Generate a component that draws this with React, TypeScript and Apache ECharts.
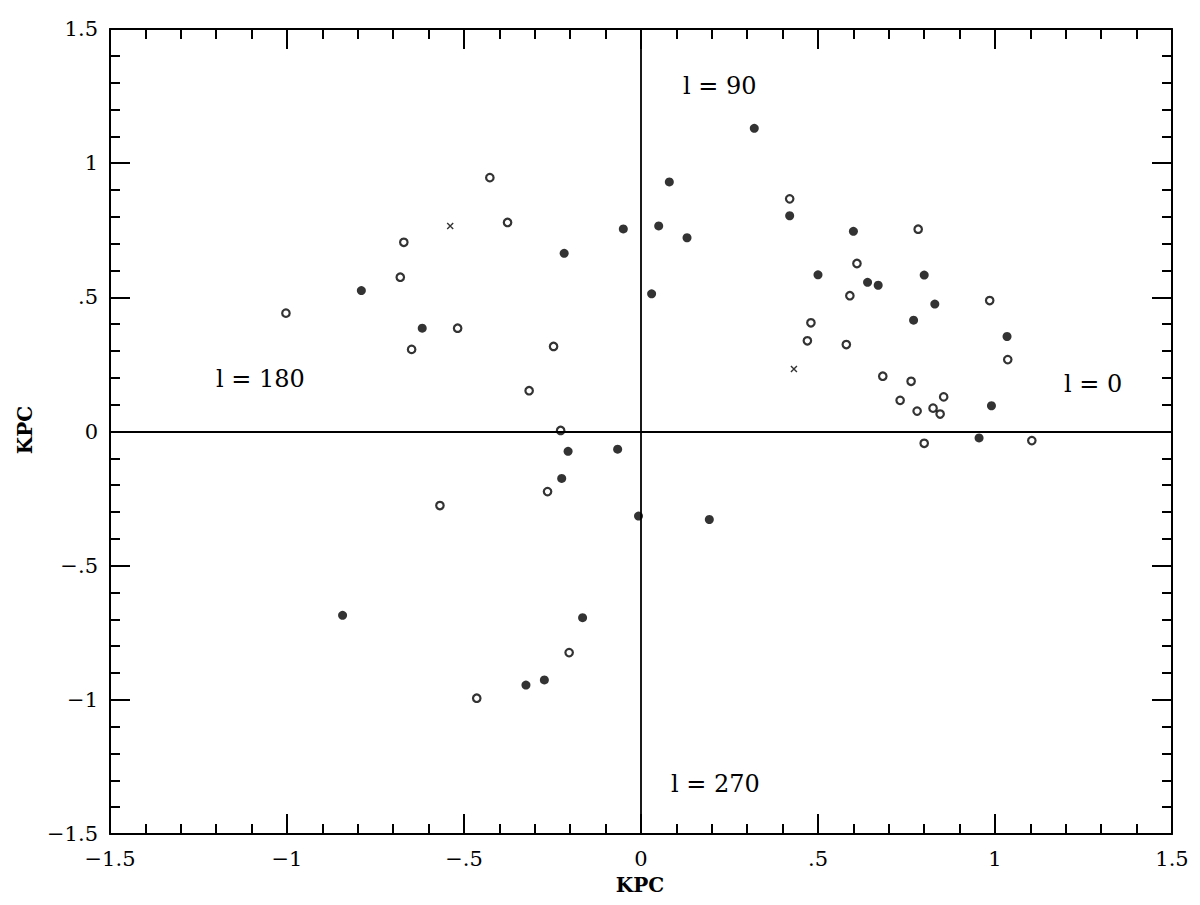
import { useEffect, useRef } from "react";
import * as echarts from "echarts";

// Filled (solid) circles: [x KPC, y KPC]
const filledPoints: [number, number][] = [
  [0.32, 1.13], [0.08, 0.93], [-0.05, 0.755], [0.05, 0.766], [0.13, 0.722],
  [-0.217, 0.664], [0.03, 0.513], [0.42, 0.804], [0.6, 0.746], [0.5, 0.584],
  [0.64, 0.556], [0.67, 0.545], [0.8, 0.583], [0.83, 0.475], [0.77, 0.415],
  [1.034, 0.354], [0.99, 0.096], [0.955, -0.024], [-0.79, 0.525], [-0.618, 0.385],
  [-0.206, -0.074], [-0.066, -0.066], [-0.224, -0.175], [-0.007, -0.315], [0.193, -0.328],
  [-0.165, -0.694], [-0.273, -0.926], [-0.325, -0.945], [-0.843, -0.685],
];

// Open circles
const openPoints: [number, number][] = [
  [-0.427, 0.946], [-0.67, 0.705], [-0.68, 0.575], [-1.003, 0.441], [-0.377, 0.779],
  [0.42, 0.867], [0.61, 0.626], [0.59, 0.506], [0.783, 0.754], [0.48, 0.405],
  [0.47, 0.338], [0.58, 0.324], [0.985, 0.488], [1.036, 0.268], [0.683, 0.206],
  [0.763, 0.187], [0.732, 0.116], [0.855, 0.129], [0.78, 0.076], [0.825, 0.087],
  [0.845, 0.065], [0.8, -0.044], [1.104, -0.034], [-0.648, 0.306], [-0.518, 0.385],
  [-0.568, -0.276], [-0.247, 0.317], [-0.316, 0.152], [-0.227, 0.004], [-0.264, -0.224],
  [-0.203, -0.824], [-0.464, -0.994],
];

// Cross marks
const crossPoints: [number, number][] = [
  [-0.539, 0.766], [0.432, 0.233],
];

const axisMin = -1.5;
const axisMax = 1.5;
const axisStep = 0.5;
const axisTitle = "KPC";
const regionTexts = ["l = 90", "l = 180", "l = 0", "l = 270"];

const FONT = "'DejaVu Serif', 'Liberation Serif', serif";

const fmt = (v: number) => {
  if (Math.abs(v) < 1e-9) return "0";
  const s = Math.abs(v).toString().replace(/^0\./, ".");
  return (v < 0 ? "\u2212" : "") + s;
};

export default function App() {
  const ref = useRef<HTMLDivElement>(null);

  useEffect(() => {
    if (!ref.current) return;
    const chart = echarts.init(ref.current, undefined, { renderer: "svg" });

    const baseAxis = (labels: boolean, position: string) => ({
      type: "value" as const,
      position,
      min: axisMin,
      max: axisMax,
      interval: axisStep,
      axisLine: { show: true, onZero: false, lineStyle: { color: "#000", width: 2 } },
      axisTick: { show: true, inside: true, length: 20, lineStyle: { color: "#000", width: 2 } },
      minorTick: { show: true, splitNumber: 5, length: 10, lineStyle: { color: "#000", width: 2 } },
      splitLine: { show: false },
      minorSplitLine: { show: false },
      axisLabel: {
        show: labels,
        formatter: fmt,
        color: "#000",
        fontFamily: FONT,
        fontSize: 21,
        showMinLabel: true,
        showMaxLabel: true,
        margin: position === "bottom" ? 14 : 12,
      },
    });

    const textStyle = (text: string, size: number, weight: string = "normal") => ({
      text,
      fill: "#000",
      font: `${weight} ${size}px ${FONT}`,
      textAlign: "left",
      textVerticalAlign: "middle",
      align: "left",
      verticalAlign: "middle",
    });

    chart.setOption({
      animation: false,
      backgroundColor: "#fff",
      grid: { left: 110, right: 28, top: 29, bottom: 71, containLabel: false },
      xAxis: [baseAxis(true, "bottom"), baseAxis(false, "top")],
      yAxis: [baseAxis(true, "left"), baseAxis(false, "right")],
      series: [
        {
          type: "scatter",
          name: "filled",
          data: filledPoints,
          symbol: "circle",
          symbolSize: 9,
          itemStyle: { color: "#000" },
          markLine: {
            silent: true,
            symbol: ["none", "none"],
            label: { show: false },
            lineStyle: { color: "#000", width: 1.8, type: "solid" },
            data: [{ xAxis: 0 }, { yAxis: 0 }],
          },
        },
        {
          type: "scatter",
          name: "open",
          data: openPoints,
          symbol: "circle",
          symbolSize: 7.5,
          itemStyle: { color: "#fff", borderColor: "#000", borderWidth: 2.2 },
        },
        {
          type: "scatter",
          name: "cross",
          data: crossPoints,
          symbol: "path://M0,0L10,10M10,0L0,10",
          symbolSize: 6,
          itemStyle: { color: "none", borderColor: "#000", borderWidth: 1.4 },
        },
      ],
      graphic: [
        { type: "text", x: 683, y: 86, style: textStyle(regionTexts[0], 24) },
        { type: "text", x: 216, y: 379, style: textStyle(regionTexts[1], 24) },
        { type: "text", x: 1064, y: 384, style: textStyle(regionTexts[2], 24) },
        { type: "text", x: 671, y: 784, style: textStyle(regionTexts[3], 24) },
        {
          type: "text",
          x: 640,
          y: 885,
          style: { ...textStyle(axisTitle, 20, "bold"), textAlign: "center", align: "center" },
        },
        {
          type: "text",
          x: 25,
          y: 430,
          rotation: Math.PI / 2,
          style: { ...textStyle(axisTitle, 20, "bold"), textAlign: "center", align: "center" },
        },
      ],
    });

    return () => chart.dispose();
  }, []);

  return (
    <div
      ref={ref}
      style={{ position: "absolute", left: 0, top: 0, width: 1200, height: 905 }}
    />
  );
}
